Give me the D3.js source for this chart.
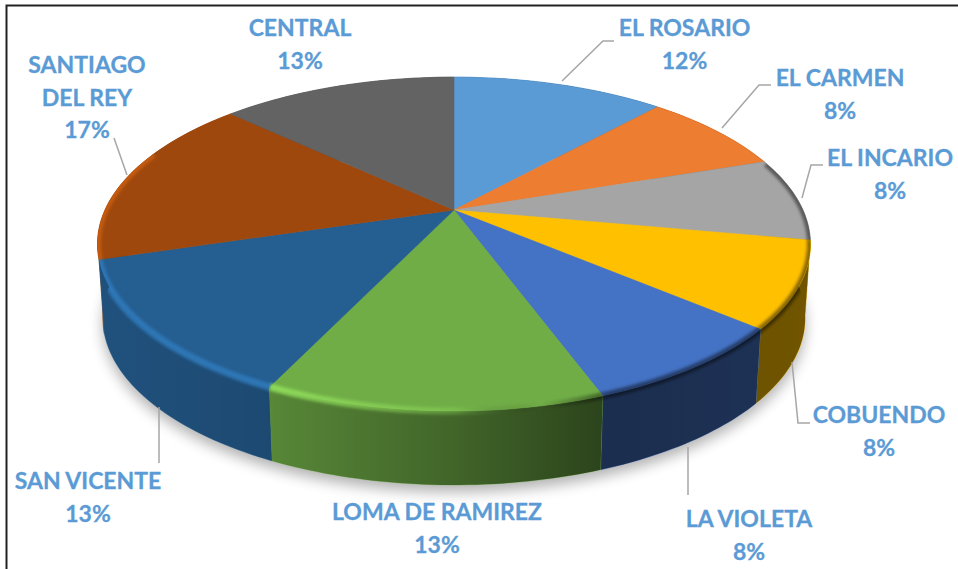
<!DOCTYPE html>
<html>
<head>
<meta charset="utf-8">
<script src="https://cdn.jsdelivr.net/npm/d3@7"></script>
<style>
	html, body { margin: 0; padding: 0; background: #fff; overflow: hidden; }
	svg { display: block; }
	text { font-family: Lato, "Noto Sans", sans-serif; font-weight: 700; fill: #5b9bd5; stroke: #5b9bd5; stroke-width: 0.3; text-anchor: middle; }
</style>
</head>
<body>
<div id="chart"></div>
<script>
	'use strict';

	var categories = ['EL ROSARIO', 'EL CARMEN', 'EL INCARIO', 'COBUENDO', 'LA VIOLETA', 'LOMA DE RAMIREZ', 'SAN VICENTE', 'SANTIAGO DEL REY', 'CENTRAL'];
	var values = [11.7, 8.1, 8.1, 8.3, 8.2, 12.7, 13.2, 16.7, 13];
	var colors = ['#5b9bd5', '#ed7d31', '#a5a5a5', '#ffc000', '#4472c4', '#70ad47', '#255e91', '#9e480e', '#636363'];

	// label lines with centre x and baselines, same order as categories
	var labelLines = [
		['EL ROSARIO'], ['EL CARMEN'], ['EL INCARIO'], ['COBUENDO'], ['LA VIOLETA'],
		['LOMA DE RAMIREZ'], ['SAN VICENTE'], ['SANTIAGO', 'DEL REY'], ['CENTRAL']
	];
	var labelX = [684.5, 840, 890, 879, 749, 437, 88, 87, 300];
	var labelY = [36, 86, 166, 423, 527, 520, 489, 73, 36];
	var leaders = [
		[[562, 81], [603, 41], [614, 41]],
		[[722, 128], [759, 85], [771, 85]],
		[[802, 198], [811, 165], [823, 165]],
		[[792, 362], [798, 423], [810, 423]],
		[[688, 447], [688, 495]],
		[],
		[[159, 407], [159, 463]],
		[[114, 138], [127, 175]],
		[]
	];

	var width = 958, height = 569;
	var cx = 454, cy = 210;
	var perspective = 0.204;
	var depth = 74, baseScale = 0.985;
	// the rounded rim edge only shows on this part of the circle
	var bevelStart = 72 * Math.PI / 180, bevelEnd = 292 * Math.PI / 180;

	var svg = d3.select('#chart').append('svg')
		.attr('width', width)
		.attr('height', height);
	var defs = svg.append('defs');

	// unit circle -> screen, the front of the disc is drawn bigger
	var scaleU = d3.scaleLinear().domain([-1, 1]).range([-349, 349]);
	var scaleV = d3.scaleLinear().domain([-1, 1]).range([160, -160]);

	function project(a, lower) {
		var u = Math.sin(a), v = Math.cos(a);
		var s = 1 / (1 + perspective * v);
		var k = lower ? baseScale : 1;
		return [cx + scaleU(u) * s * k, cy + scaleV(v) * s + (lower ? depth : 0)];
	}

	function arcPoints(a0, a1, lower) {
		var n = Math.max(2, Math.ceil((a1 - a0) / 0.02));
		return d3.range(n + 1).map(function(i) {
			return project(a0 + (a1 - a0) * i / n, lower);
		});
	}

	var line = d3.line();
	var pie = d3.pie().sort(null).value(function(d) { return d; });
	var slices = pie(values);

	function addGradient(id, x0, x1, stops) {
		var g = defs.append('linearGradient')
			.attr('id', id)
			.attr('gradientUnits', 'userSpaceOnUse')
			.attr('x1', x0).attr('x2', x1)
			.attr('y1', 0).attr('y2', 0);
		stops.forEach(function(s) {
			g.append('stop')
				.attr('offset', s[0])
				.attr('stop-color', s[1])
				.attr('stop-opacity', s[2]);
		});
	}

	addGradient('sideShade', 100, 810, [
		[0, '#000', 0.14],
		[0.24, '#000', 0.22],
		[0.5, '#000', 0.42],
		[0.7, '#000', 0.6],
		[1, '#000', 0.56]
	]);

	colors.forEach(function(c, i) {
		var light = d3.color(c).brighter(0.7).formatHex();
		addGradient('bevel' + i, 100, 810, [
			[0, light, 0.9],
			[0.24, light, 0.9],
			[0.5, light, 0.35],
			[0.62, '#000', 0],
			[0.72, '#000', 0.45],
			[1, '#000', 0.45]
		]);
	});

	var blur = defs.append('filter').attr('id', 'shadowBlur')
		.attr('x', '-10%').attr('y', '-10%').attr('width', '120%').attr('height', '130%');
	blur.append('feGaussianBlur').attr('stdDeviation', 7);
	var soft = defs.append('filter').attr('id', 'bevelBlur')
		.attr('filterUnits', 'userSpaceOnUse')
		.attr('x', 0).attr('y', 0).attr('width', width).attr('height', height);
	soft.append('feGaussianBlur').attr('stdDeviation', 1.6);

	var topOutline = line(arcPoints(0, 2 * Math.PI, false)) + 'Z';
	var baseOutline = line(arcPoints(0, 2 * Math.PI, true)) + 'Z';

	var clip = defs.append('clipPath').attr('id', 'discClip');
	clip.append('path').attr('d', topOutline);
	clip.append('path').attr('d', baseOutline);

	// frame
	svg.append('path')
		.attr('d', 'M6.5,' + height + 'V5.5H' + width)
		.attr('fill', 'none')
		.attr('stroke', '#222')
		.attr('stroke-width', 2);

	// shadow under the disc
	svg.append('path')
		.attr('d', baseOutline)
		.attr('transform', 'translate(0,7)')
		.attr('fill', '#000')
		.attr('opacity', 0.3)
		.attr('filter', 'url(#shadowBlur)');

	function sidePath(d) {
		var upper = arcPoints(d.startAngle, d.endAngle, false);
		var lower = arcPoints(d.startAngle, d.endAngle, true).reverse();
		return line(upper.concat(lower)) + 'Z';
	}

	// back walls first so the front ones cover them
	var backToFront = slices.slice().sort(function(a, b) {
		return Math.cos((b.startAngle + b.endAngle) / 2) - Math.cos((a.startAngle + a.endAngle) / 2);
	});

	var walls = svg.append('g');
	backToFront.forEach(function(d) {
		walls.append('path')
			.attr('d', sidePath(d))
			.attr('fill', colors[d.index])
			.attr('stroke', colors[d.index])
			.attr('stroke-width', 0.5);
		walls.append('path')
			.attr('d', sidePath(d))
			.attr('fill', 'url(#sideShade)');
	});

	// top surface
	svg.append('g').selectAll('path.top')
		.data(slices)
		.enter().append('path')
		.attr('class', 'top')
		.attr('d', function(d) {
			return line([[cx, cy]].concat(arcPoints(d.startAngle, d.endAngle, false))) + 'Z';
		})
		.attr('fill', function(d, i) { return colors[i]; })
		.attr('stroke', function(d, i) { return colors[i]; })
		.attr('stroke-width', 0.5);

	// rounded edge along the rim, one stroke per slice so it keeps the slice colour
	var bevelSlices = slices.filter(function(d) {
		return d.endAngle > bevelStart && d.startAngle < bevelEnd;
	});

	svg.append('g')
		.attr('clip-path', 'url(#discClip)')
		.selectAll('path.bevel')
		.data(bevelSlices)
		.enter().append('path')
		.attr('class', 'bevel')
		.attr('d', function(d) {
			return line(arcPoints(Math.max(d.startAngle, bevelStart), Math.min(d.endAngle, bevelEnd), false));
		})
		.attr('fill', 'none')
		.attr('stroke', function(d) { return 'url(#bevel' + d.index + ')'; })
		.attr('stroke-width', 7)
		.attr('filter', 'url(#bevelBlur)');

	// leader lines
	svg.append('g').selectAll('path.leader')
		.data(leaders.filter(function(d) { return d.length; }))
		.enter().append('path')
		.attr('class', 'leader')
		.attr('d', line)
		.attr('fill', 'none')
		.attr('stroke', '#a6a6a6')
		.attr('stroke-width', 1.5);

	// labels
	var lineStep = 32.5;
	var labels = svg.append('g').selectAll('g.label')
		.data(categories)
		.enter().append('g')
		.attr('class', 'label');

	labels.each(function(name, i) {
		var g = d3.select(this);
		var rows = labelLines[i].concat([Math.round(values[i]) + '%']);
		rows.forEach(function(row, r) {
			g.append('text')
				.attr('x', labelX[i])
				.attr('y', labelY[i] + r * lineStep)
				.attr('font-size', 23)
				.text(row);
		});
	});
</script>
</body>
</html>
